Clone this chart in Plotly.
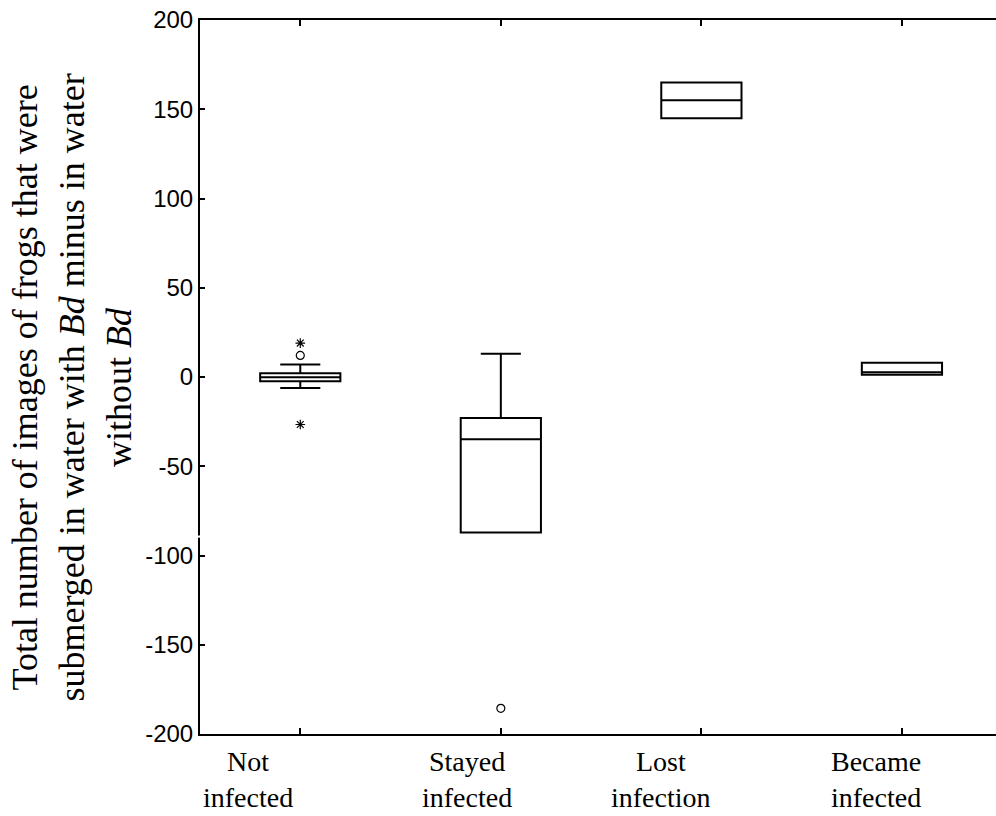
import plotly.graph_objects as go

# ---- data ----
categories = ["Not infected", "Stayed infected", "Lost infection", "Became infected"]
category_labels = ["Not<br>infected", "Stayed<br>infected", "Lost<br>infection", "Became<br>infected"]
q1_vals = [-2.4, -87.1, 145.0, 1.2]
median_vals = [-0.1, -34.9, 155.0, 2.6]
q3_vals = [2.1, -22.9, 165.0, 8.0]
lower_whisker = [-6.1, -87.1, 145.0, 1.2]
upper_whisker = [7.0, 13.0, 165.0, 8.0]

outlier_x = ["Not infected", "Stayed infected"]
outlier_y = [12.1, -185.6]
extreme_x = ["Not infected", "Not infected"]
extreme_y = [19.0, -26.6]

y_tick_vals = [-200, -150, -100, -50, 0, 50, 100, 150, 200]
y_tick_text = ["-200", "-150", "-100", "-50", "0", "50", "100", "150", "200"]
y_title = ("Total number of images of frogs that were<br>"
           "submerged in water with <i>Bd</i> minus in water<br>"
           "without <i>Bd</i>")

# label horizontal shifts (in category units) to mimic the reference placement
label_shift = [-0.26, -0.17, -0.20, -0.13]

fig = go.Figure()

fig.add_trace(go.Box(
    x=categories,
    q1=q1_vals, median=median_vals, q3=q3_vals,
    lowerfence=lower_whisker, upperfence=upper_whisker,
    boxpoints=False,
    width=0.4,
    whiskerwidth=0.5,
    fillcolor="rgba(255,255,255,0)",
    line=dict(color="black", width=2),
    showlegend=False,
    hoverinfo="skip",
))

fig.add_trace(go.Scatter(
    x=outlier_x, y=outlier_y, mode="markers",
    marker=dict(symbol="circle-open", size=8, color="black", line=dict(width=1.2)),
    showlegend=False,
))
fig.add_trace(go.Scatter(
    x=extreme_x, y=extreme_y, mode="markers",
    marker=dict(symbol="asterisk-open", size=8, color="black", line=dict(width=1.2)),
    showlegend=False,
))

annotations = []
for i, lab in enumerate(category_labels):
    annotations.append(dict(
        x=i + label_shift[i], xref="x", y=-0.064, yref="paper",
        text=lab, showarrow=False, xanchor="center", yanchor="middle",
        font=dict(family="Liberation Serif", size=28, color="black"),
    ))
annotations.append(dict(
    x=-0.161, xref="paper", y=0.485, yref="paper",
    text=y_title, textangle=-90, showarrow=False,
    xanchor="center", yanchor="middle",
    font=dict(family="Liberation Serif", size=36, color="black"),
))

fig.update_layout(
    width=996, height=816,
    margin=dict(l=200, r=0, t=20, b=82, autoexpand=False),
    paper_bgcolor="white", plot_bgcolor="white",
    annotations=annotations,
    shapes=[dict(type="rect", xref="paper", yref="y",
                 x0=-0.006, x1=0.006, y0=-90.0, y1=-88.8,
                 fillcolor="white", line=dict(width=0), layer="above")],
)

fig.update_xaxes(
    type="category", categoryorder="array", categoryarray=categories,
    range=[-0.5, 3.469], automargin=False,
    showline=True, linecolor="black", linewidth=2, mirror="ticks",
    ticks="inside", ticklen=6, tickwidth=2, tickcolor="black",
    showticklabels=False, showgrid=False, zeroline=False,
)
fig.update_yaxes(
    range=[-200, 200], automargin=False,
    tickvals=y_tick_vals, ticktext=y_tick_text,
    showline=True, linecolor="black", linewidth=2,
    ticks="inside", ticklen=5, tickwidth=1.5, tickcolor="black",
    tickfont=dict(family="Liberation Sans", size=24, color="black"),
    showgrid=False, zeroline=False,
)

fig.write_html(
    "out.html",
    config={"displayModeBar": False},
    post_script="document.body.style.margin='0';document.body.style.padding='0';",
)
